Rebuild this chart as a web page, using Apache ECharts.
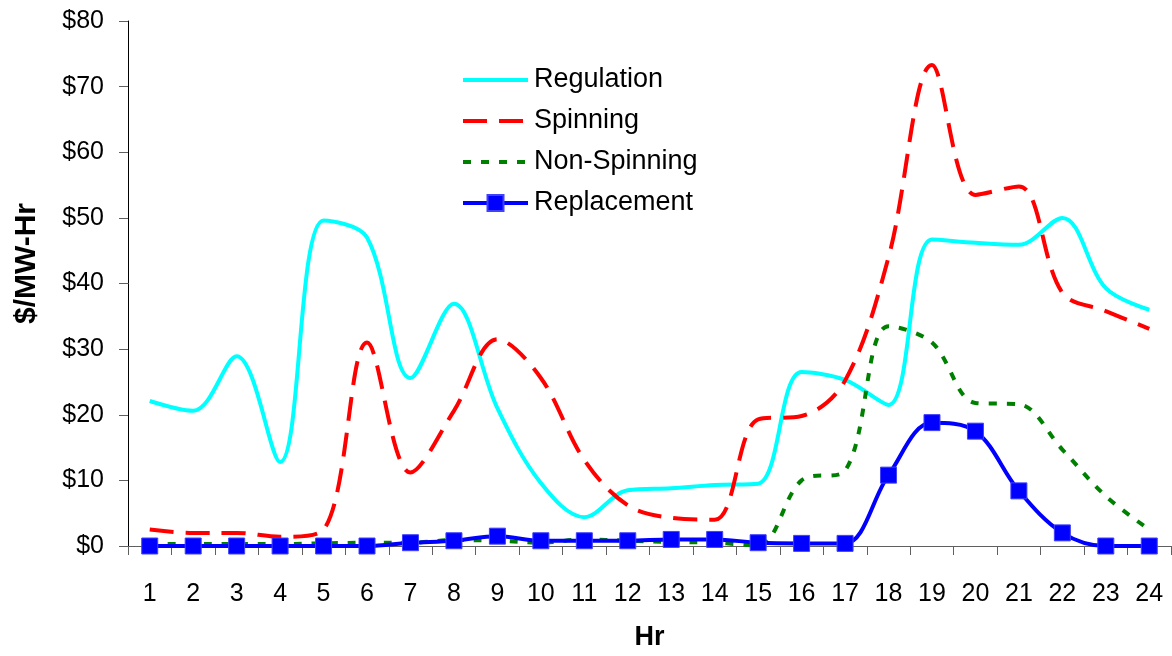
<!DOCTYPE html>
<html>
<head>
<meta charset="utf-8">
<script src="https://cdn.jsdelivr.net/npm/echarts@6/dist/echarts.min.js"></script>
<style>
html,body{margin:0;padding:0;background:#fff;}
#chart{width:1172px;height:656px;}
</style>
</head>
<body>
<div id="chart"></div>
<script>
var hours = ['1','2','3','4','5','6','7','8','9','10','11','12','13','14','15','16','17','18','19','20','21','22','23','24'];
var regulation = [22.1, 20.6, 28.9, 12.8, 49.6, 47.0, 25.6, 36.9, 21.0, 9.6, 4.4, 8.5, 8.8, 9.3, 9.5, 26.5, 25.3, 21.5, 46.7, 46.2, 45.9, 50.0, 39.3, 36.0];
var spinning = [2.5, 2.0, 2.0, 1.4, 2.5, 31.0, 11.2, 20.6, 31.5, 25.6, 13.1, 6.2, 4.3, 4.0, 19.3, 19.8, 25.2, 44.0, 73.3, 53.5, 54.8, 38.6, 35.8, 33.1];
var nonSpinning = [0.3, 0.3, 0.3, 0.3, 0.4, 0.5, 0.5, 0.9, 0.8, 0.5, 1.0, 0.8, 0.6, 0.5, 0.1, 10.0, 11.5, 33.5, 31.0, 21.8, 21.6, 14.7, 7.6, 2.5];
var replacement = [0, 0, 0, 0, 0, 0, 0.5, 0.8, 1.5, 0.8, 0.8, 0.8, 1.0, 1.0, 0.5, 0.4, 0.4, 10.8, 18.8, 17.5, 8.4, 2.0, 0, 0];
var yTicks = [0, 80, 10];

var font = 'Liberation Sans, Arial, sans-serif';
var clear = 'rgba(0,0,0,0)';
var chart = echarts.init(document.getElementById('chart'));
chart.setOption({
  animation: false,
  backgroundColor: '#ffffff',
  grid: {left: 128, right: 1, top: 21, bottom: 109},
  legend: {
    orient: 'vertical',
    left: 456,
    top: 60,
    itemWidth: 65,
    itemHeight: 20,
    itemGap: 11,
    lineStyle: {width: 4},
    textStyle: {fontFamily: font, fontSize: 27, color: '#000', lineHeight: 30, padding: [0,0,0,1]},
    data: ['Regulation', 'Spinning', 'Non-Spinning', 'Replacement']
  },
  xAxis: {
    type: 'category',
    data: hours,
    boundaryGap: true,
    name: 'Hr',
    nameLocation: 'middle',
    nameGap: 78,
    nameTextStyle: {fontFamily: font, fontSize: 27, fontWeight: 'bold', color: '#000'},
    axisLine: {lineStyle: {color: '#606060', width: 1}},
    axisTick: {show: true, length: 9, inside: false, lineStyle: {color: '#606060'}},
    axisLabel: {fontFamily: font, fontSize: 25, color: '#000', margin: 36}
  },
  yAxis: {
    type: 'value',
    min: yTicks[0],
    max: yTicks[1],
    interval: yTicks[2],
    name: '$/MW-Hr',
    nameLocation: 'middle',
    nameGap: 86,
    nameRotate: 90,
    nameTextStyle: {fontFamily: font, fontSize: 30, fontWeight: 'bold', color: '#000', padding: [0, 0, 0, 40]},
    splitLine: {show: false},
    axisLine: {show: true, lineStyle: {color: '#000', width: 1}},
    axisTick: {show: true, length: 9, inside: false, lineStyle: {color: '#606060'}},
    axisLabel: {fontFamily: font, fontSize: 25, color: '#000', margin: 24, formatter: function (v) { return '$' + v; }}
  },
  series: [
    {
      name: 'Regulation', type: 'line', data: regulation, smooth: 0.35,
      symbol: 'circle', showSymbol: false, lineStyle: {color: '#00FFFF', width: 4}, itemStyle: {color: clear}
    },
    {
      name: 'Spinning', type: 'line', data: spinning, smooth: 0.35,
      symbol: 'circle', showSymbol: false, lineStyle: {color: '#FF0000', width: 4, type: [24, 12]}, itemStyle: {color: clear}
    },
    {
      name: 'Non-Spinning', type: 'line', data: nonSpinning, smooth: 0.35,
      symbol: 'circle', showSymbol: false, lineStyle: {color: '#008000', width: 4, type: [8, 10]}, itemStyle: {color: clear}
    },
    {
      name: 'Replacement', type: 'line', data: replacement, smooth: 0.35,
      symbol: 'rect', symbolSize: 16, showSymbol: true,
      lineStyle: {color: '#0000FF', width: 4},
      itemStyle: {color: '#0000FF', borderColor: '#4040FF', borderWidth: 1}
    }
  ]
});
</script>
</body>
</html>
